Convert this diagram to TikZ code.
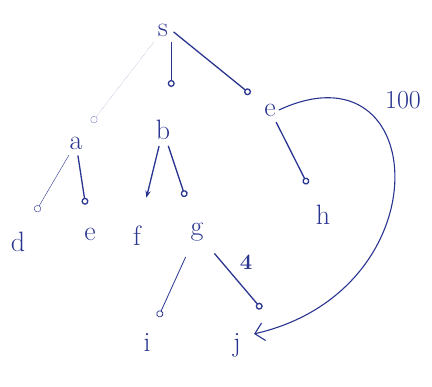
\documentclass[tikz,border=0pt]{standalone}
\usetikzlibrary{arrows.meta, positioning}
\definecolor{penblue}{HTML}{2A3590}

\begin{document}
\begin{tikzpicture}[x=1pt, y=-1pt,
  vtx/.style={font=\fontsize{28}{28}\selectfont, text=penblue, inner sep=3pt},
  tedge/.style={line width=1.3pt, draw=penblue, -{Circle[open, length=7pt, width=7pt]},
                shorten <=3pt, shorten >=14pt},
  fedge/.style={line width=1.3pt, draw=penblue, -{Stealth[length=7pt]}, shorten <=3pt, shorten >=14pt},
  wlab/.style={text=penblue, font=\fontsize{#1}{#1}\selectfont, inner sep=1pt}
]
  \useasboundingbox (0,0) rectangle (432,387);

  % ── vertices ────────────────────────────────────────────────────────────
  \node[vtx] (s)  at (163,30)  {s};
  \node[vtx] (a)  at (76,143)  {a};
  \node[vtx] (b)  at (163,130) {b};
  \node[vtx] (e)  at (270,110) {e};
  \node[vtx] (d)  at (18,242)  {d};
  \node[vtx] (e2) at (90,234)  {e};
  \node[vtx] (f)  at (137,236) {f};
  \node[vtx] (g)  at (197,232) {g};
  \node[vtx] (h)  at (323,215) {h};
  \node[vtx] (i)  at (147,342) {i};
  \node[vtx] (j)  at (237,345) {j};

  % ── tree edges ──────────────────────────────────────────────────────────
  \draw[tedge, thin, draw=penblue!60, densely dotted] (s) -- (a);
  \draw[tedge, shorten >=30pt] (s.south east) -- (s.south east |- b.north);
  \draw[tedge] (s.east) -- (e);
  \draw[tedge, thin, shorten >=20pt] (a) -- (d);
  \draw[tedge, shorten >=20pt] (a) -- (e2);
  \draw[fedge, shorten >=26pt] (b) -- (f);
  \draw[tedge, shorten >=24pt] (b) -- (g);
  \draw[tedge, shorten >=20pt] (e) -- (h);
  \draw[tedge, line width=0.8pt, shorten <=14pt] (g) -- (i);
  \draw[tedge, shorten <=12pt, shorten >=4pt] (g.south east) -- ([xshift=20pt, yshift=18pt]j.north east);

  % ── weighted edges ──────────────────────────────────────────────────────
  \draw[line width=1.1pt, penblue, -{Straight Barb[length=9pt]}]
    (e.east) .. controls (430,40) and (445,290) .. ([xshift=10pt, yshift=-4pt]j.north east);
  \node[wlab=26] (w100) at (403,100) {100};
  \node[wlab=22] (w4)   at (246,262) {\bfseries 4};
\end{tikzpicture}
\end{document}
